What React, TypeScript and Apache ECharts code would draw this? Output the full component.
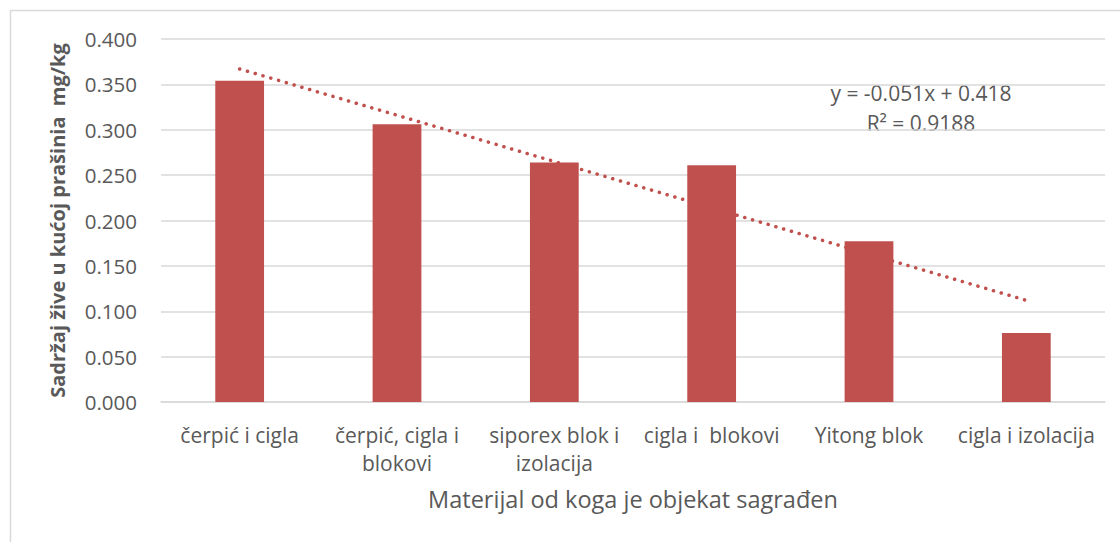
import React, { useEffect, useRef } from "react";
import * as echarts from "echarts";

const categories: string[] = [
  "čerpić i cigla",
  "čerpić, cigla i\nblokovi",
  "siporex blok i\nizolacija",
  "cigla i  blokovi",
  "Yitong blok",
  "cigla i izolacija",
];
const values: number[] = [0.354, 0.306, 0.264, 0.261, 0.177, 0.076];
// linear trendline read at first and last category
const trendValues: (number | null)[] = [0.367, null, null, null, null, 0.112];
const yTicks = { min: 0, max: 0.4, interval: 0.05 };
const equationLine1 = "y = -0.051x + 0.418";
const equationLine2 = "R² = 0.9188";
const yAxisTitle = "Sadržaj žive u kućoj prašinia  mg/kg";
const xAxisTitle = "Materijal od koga je objekat sagrađen";

const FONT = "'Open Sans', 'Liberation Sans', sans-serif";
const TEXT = "#595959";
const GRID = "#D9D9D9";
const BAR = "#C0504D";

export default function App() {
  const ref = useRef<HTMLDivElement>(null);
  useEffect(() => {
    if (!ref.current) return;
    const chart = echarts.init(ref.current, undefined, { renderer: "svg" });
    chart.setOption({
      animation: false,
      backgroundColor: "#ffffff",
      textStyle: { fontFamily: FONT },
      grid: { left: 161, right: 15, top: 39, bottom: 140 },
      xAxis: {
        type: "category",
        data: categories,
        axisLine: { show: true, lineStyle: { color: GRID, width: 1.5 } },
        axisTick: { show: false },
        axisLabel: {
          interval: 0,
          color: TEXT,
          fontSize: 21,
          fontFamily: FONT,
          lineHeight: 28,
          margin: 19,
        },
        name: xAxisTitle,
        nameLocation: "middle",
        nameGap: 85,
        nameTextStyle: { color: TEXT, fontSize: 23.5, fontFamily: FONT },
      },
      yAxis: {
        type: "value",
        min: yTicks.min,
        max: yTicks.max,
        interval: yTicks.interval,
        axisLine: { show: false },
        axisTick: { show: false },
        splitLine: { lineStyle: { color: GRID, width: 1.5 } },
        axisLabel: {
          color: TEXT,
          fontSize: 20.5,
          fontFamily: FONT,
          margin: 24,
          formatter: (v: number) => v.toFixed(3),
        },
        name: yAxisTitle,
        nameLocation: "middle",
        nameGap: 94,
        nameTextStyle: {
          color: TEXT,
          fontSize: 20,
          fontWeight: "bold",
          fontFamily: FONT,
        },
      },
      graphic: [
        {
          type: "rect",
          shape: { x: 10.5, y: 10.5, width: 1200, height: 700 },
          style: { fill: "none", stroke: GRID, lineWidth: 1.5 },
          silent: true,
          z: -10,
        },
        {
          type: "text",
          x: 921,
          y: 93,
          style: {
            text: equationLine1,
            fill: TEXT,
            font: `21px ${FONT}`,
            textAlign: "center",
            textVerticalAlign: "middle",
          },
        },
        {
          type: "text",
          x: 921,
          y: 123,
          style: {
            text: equationLine2,
            fill: TEXT,
            font: `21px ${FONT}`,
            textAlign: "center",
            textVerticalAlign: "middle",
          },
        },
      ],
      series: [
        {
          type: "bar",
          data: values,
          barWidth: "31%",
          itemStyle: { color: BAR },
          z: 2,
        },
        {
          type: "line",
          data: trendValues,
          connectNulls: true,
          symbol: "none",
          lineStyle: {
            color: BAR,
            width: 3.5,
            type: [0.1, 8],
            cap: "round",
          },
          z: 3,
        },
      ],
    });
    return () => chart.dispose();
  }, []);
  return (
    <div
      ref={ref}
      style={{ position: "fixed", left: 0, top: 0, width: 1120, height: 542 }}
    />
  );
}
